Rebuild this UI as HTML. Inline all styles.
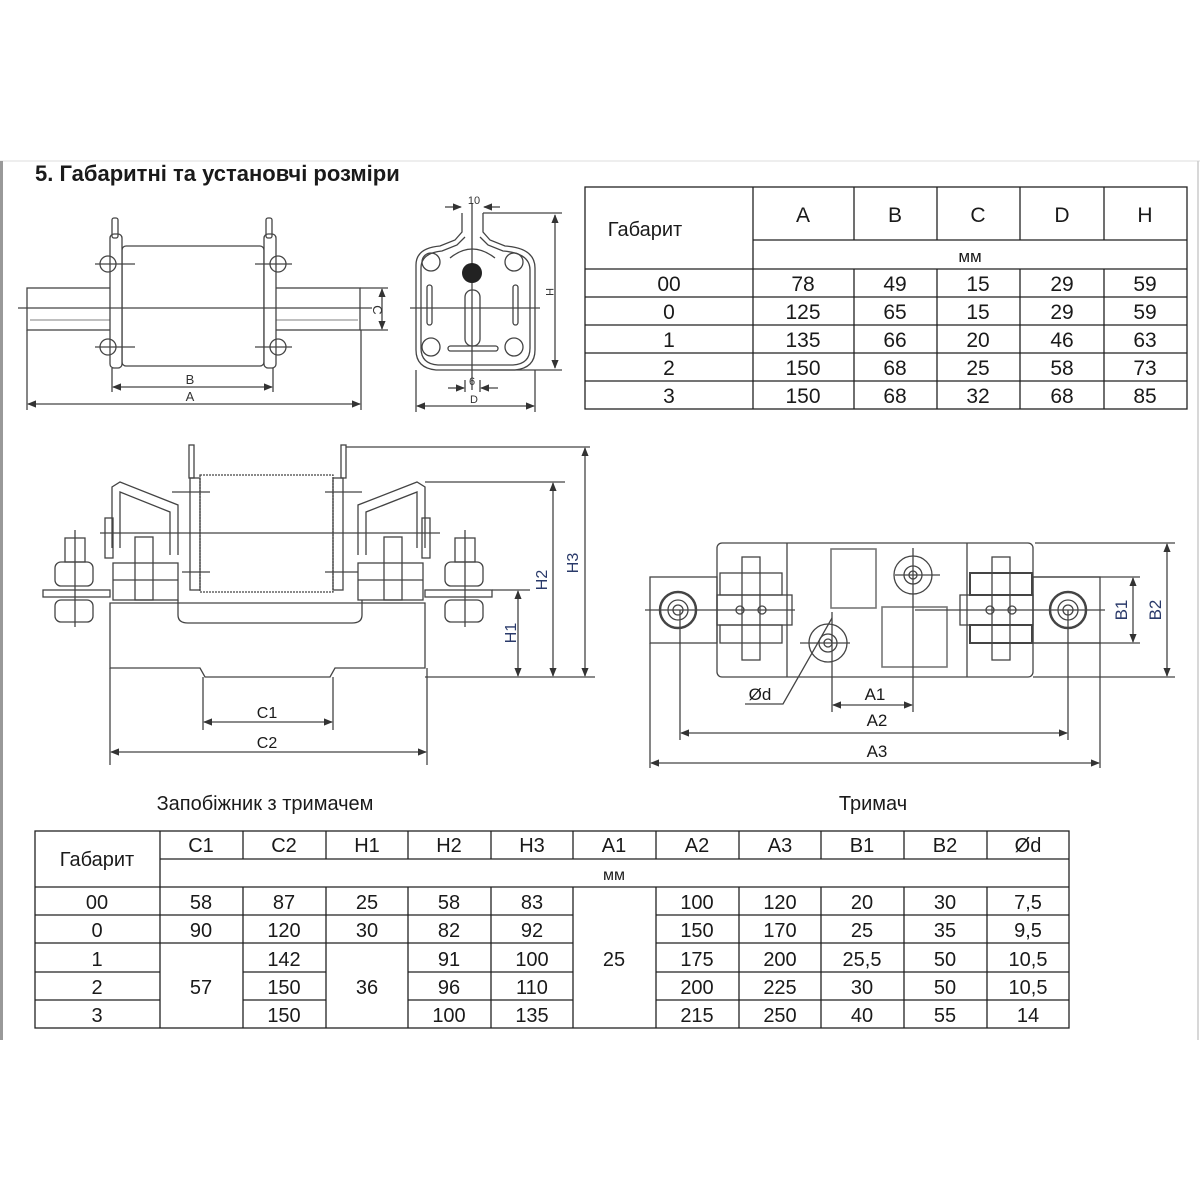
<!DOCTYPE html>
<html><head><meta charset="utf-8"><style>
html,body{margin:0;padding:0;background:#fff}
svg{display:block}
text{font-family:"Liberation Sans",sans-serif;fill:#1a1a1a}
.t{font-size:20px}
.n{font-size:21px}
.d{font-size:15px;fill:#333}
</style></head><body>
<svg width="1200" height="1200" viewBox="0 0 1200 1200" xmlns="http://www.w3.org/2000/svg">
<defs>
<marker id="a" viewBox="0 0 10 10" refX="9" refY="5" markerWidth="7" markerHeight="7" orient="auto-start-reverse"><path d="M0 1 L10 5 L0 9 Z" fill="#333"/></marker>
</defs>
<rect width="1200" height="1200" fill="#fff"/>
<line x1="0" y1="161" x2="1200" y2="161" stroke="#ddd" stroke-width="1"/>
<line x1="1.5" y1="161" x2="1.5" y2="1040" stroke="#999" stroke-width="3"/>
<line x1="1198" y1="161" x2="1198" y2="1040" stroke="#ccc" stroke-width="1.5"/>
<text x="35" y="181" style="font-size:22px;font-weight:bold">5. Габаритні та установчі розміри</text>

<!-- Top-left drawing -->
<g fill="none" stroke="#444" stroke-width="1.3">
<rect x="27" y="288" width="333" height="42"/>
<line x1="30" y1="320" x2="358" y2="320" stroke="#999"/>
<rect x="122" y="246" width="142" height="120" rx="4" fill="#fff"/>
<rect x="110" y="234" width="12" height="134" rx="4" fill="#fff"/>
<rect x="264" y="234" width="12" height="134" rx="4" fill="#fff"/>
<rect x="112" y="218" width="6" height="20" rx="2"/>
<rect x="266" y="218" width="6" height="20" rx="2"/>
<circle cx="108" cy="264" r="8"/><circle cx="108" cy="347" r="8"/>
<circle cx="278" cy="264" r="8"/><circle cx="278" cy="347" r="8"/>
<line x1="95" y1="264" x2="135" y2="264"/><line x1="95" y1="347" x2="135" y2="347"/>
<line x1="255" y1="264" x2="292" y2="264"/><line x1="255" y1="347" x2="292" y2="347"/>
<line x1="18" y1="308" x2="372" y2="308"/>
<line x1="27" y1="330" x2="27" y2="410"/><line x1="361" y1="330" x2="361" y2="410"/>
<line x1="112" y1="368" x2="112" y2="392"/><line x1="273" y1="368" x2="273" y2="392"/>
<line x1="113" y1="387" x2="272" y2="387" marker-start="url(#a)" marker-end="url(#a)"/>
<line x1="28" y1="404" x2="360" y2="404" marker-start="url(#a)" marker-end="url(#a)"/>
<line x1="360" y1="288" x2="388" y2="288"/><line x1="360" y1="330" x2="388" y2="330"/>
<line x1="382" y1="289" x2="382" y2="329" marker-start="url(#a)" marker-end="url(#a)"/>
</g>
<text class="d" x="190" y="384" text-anchor="middle" style="font-size:13px">B</text>
<text class="d" x="190" y="401" text-anchor="middle" style="font-size:13px">A</text>
<text class="d" x="373" y="310" text-anchor="middle" transform="rotate(90 373 310)" style="font-size:13px">C</text>

<!-- front view -->
<g fill="none" stroke="#444" stroke-width="1.3">
<path d="M462 213 L462 232 L455 240 L440 246 Q416 248 416 265 L416 350 Q416 368 436 370 L515 370 Q535 368 535 350 L535 268 Q535 248 505 246 L490 240 L483 232 L483 213"/>
<path d="M465 237 L457 245 L442 251 Q421 253 421 268 L421 348 Q421 364 438 365 L513 365 Q530 364 530 348 L530 270 Q530 253 503 251 L488 245 L480 237"/>
<circle cx="431" cy="262" r="9"/><circle cx="514" cy="262" r="9"/>
<circle cx="431" cy="347" r="9"/><circle cx="514" cy="347" r="9"/>
<rect x="465" y="290" width="15" height="56" rx="7"/>
<rect x="427" y="285" width="5" height="40" rx="2.5"/><rect x="513" y="285" width="5" height="40" rx="2.5"/>
<rect x="448" y="346" width="50" height="5" rx="2.5"/>
<path d="M450 258 Q472 240 495 258"/>
<line x1="410" y1="308" x2="540" y2="308"/>
<line x1="472" y1="203" x2="472" y2="390"/>
<line x1="483" y1="213" x2="562" y2="213"/><line x1="490" y1="370" x2="562" y2="370"/>
<line x1="555" y1="215" x2="555" y2="368" marker-start="url(#a)" marker-end="url(#a)"/>
<line x1="445" y1="207" x2="461" y2="207" marker-end="url(#a)"/><line x1="500" y1="207" x2="484" y2="207" marker-end="url(#a)"/>
<line x1="465" y1="380" x2="465" y2="392"/><line x1="480" y1="380" x2="480" y2="392"/>
<line x1="448" y1="388" x2="464" y2="388" marker-end="url(#a)"/><line x1="498" y1="388" x2="481" y2="388" marker-end="url(#a)"/>
<line x1="416" y1="370" x2="416" y2="412"/><line x1="535" y1="370" x2="535" y2="412"/>
<line x1="417" y1="406" x2="534" y2="406" marker-start="url(#a)" marker-end="url(#a)"/>
</g>
<circle cx="472" cy="273" r="10" fill="#222"/>
<text class="d" x="474" y="204" text-anchor="middle" style="font-size:11px">10</text>
<text class="d" x="472" y="385" text-anchor="middle" style="font-size:11px">6</text>
<text class="d" x="474" y="403" text-anchor="middle" style="font-size:11px">D</text>
<text class="d" x="546" y="292" text-anchor="middle" transform="rotate(90 546 292)" style="font-size:11px">H</text>

<!-- Top table -->
<g stroke="#222" stroke-width="1.3" fill="none">
<rect x="585" y="187" width="602" height="222"/>
<line x1="753" y1="187" x2="753" y2="409"/>
<line x1="854" y1="187" x2="854" y2="240"/><line x1="937" y1="187" x2="937" y2="240"/>
<line x1="1020" y1="187" x2="1020" y2="240"/><line x1="1104" y1="187" x2="1104" y2="240"/>
<line x1="854" y1="269" x2="854" y2="409"/><line x1="937" y1="269" x2="937" y2="409"/>
<line x1="1020" y1="269" x2="1020" y2="409"/><line x1="1104" y1="269" x2="1104" y2="409"/>
<line x1="753" y1="240" x2="1187" y2="240"/>
<line x1="585" y1="269" x2="1187" y2="269"/>
<line x1="585" y1="297" x2="1187" y2="297"/><line x1="585" y1="325" x2="1187" y2="325"/>
<line x1="585" y1="353" x2="1187" y2="353"/><line x1="585" y1="381" x2="1187" y2="381"/>
</g>
<g class="n" text-anchor="middle">
<text x="645" y="236" text-anchor="middle" class="t">Габарит</text>
<text x="803" y="222">A</text><text x="895" y="222">B</text><text x="978" y="222">C</text><text x="1062" y="222">D</text><text x="1145" y="222">H</text>
<text x="970" y="262" style="font-size:17px">мм</text>
<text x="669" y="291">00</text><text x="803" y="291">78</text><text x="895" y="291">49</text><text x="978" y="291">15</text><text x="1062" y="291">29</text><text x="1145" y="291">59</text>
<text x="669" y="319">0</text><text x="803" y="319">125</text><text x="895" y="319">65</text><text x="978" y="319">15</text><text x="1062" y="319">29</text><text x="1145" y="319">59</text>
<text x="669" y="347">1</text><text x="803" y="347">135</text><text x="895" y="347">66</text><text x="978" y="347">20</text><text x="1062" y="347">46</text><text x="1145" y="347">63</text>
<text x="669" y="375">2</text><text x="803" y="375">150</text><text x="895" y="375">68</text><text x="978" y="375">25</text><text x="1062" y="375">58</text><text x="1145" y="375">73</text>
<text x="669" y="403">3</text><text x="803" y="403">150</text><text x="895" y="403">68</text><text x="978" y="403">32</text><text x="1062" y="403">68</text><text x="1145" y="403">85</text>
</g>

<!-- Middle-left drawing -->
<g fill="none" stroke="#444" stroke-width="1.3">
<path d="M110 603 L110 668 L200 668 L205 677 L330 677 L335 668 L425 668 L425 603 Z"/>
<path d="M178 600 L178 615 Q178 623 188 623 L352 623 Q362 623 362 615 L362 600"/>
<rect x="200" y="475" width="133" height="117" stroke-dasharray="2 1"/>
<rect x="190" y="478" width="10" height="112"/><rect x="333" y="478" width="10" height="112"/>
<rect x="189" y="445" width="5" height="33"/><rect x="341" y="445" width="5" height="33"/>
<line x1="172" y1="492" x2="210" y2="492"/><line x1="325" y1="492" x2="362" y2="492"/>
<line x1="182" y1="572" x2="210" y2="572"/><line x1="325" y1="572" x2="358" y2="572"/>
<line x1="100" y1="533" x2="440" y2="533"/>
<path d="M112 548 L112 487 L120 482 L178 505 L178 555"/>
<path d="M120 548 L120 492 L170 512 L170 555"/>
<path d="M425 548 L425 487 L417 482 L358 505 L358 555"/>
<path d="M417 548 L417 492 L366 512 L366 555"/>
<rect x="105" y="518" width="8" height="40"/><rect x="422" y="518" width="8" height="40"/>
<rect x="135" y="537" width="18" height="63"/><rect x="384" y="537" width="18" height="63"/>
<rect x="113" y="563" width="65" height="37"/><rect x="358" y="563" width="65" height="37"/>
<line x1="113" y1="580" x2="178" y2="580"/><line x1="358" y1="580" x2="423" y2="580"/>
<rect x="65" y="538" width="20" height="24"/><rect x="55" y="562" width="38" height="24" rx="6"/>
<rect x="43" y="590" width="67" height="7"/><rect x="55" y="600" width="38" height="22" rx="6"/>
<line x1="75" y1="530" x2="75" y2="627"/>
<rect x="455" y="538" width="20" height="24"/><rect x="445" y="562" width="38" height="24" rx="6"/>
<rect x="425" y="590" width="67" height="7"/><rect x="445" y="600" width="38" height="22" rx="6"/>
<line x1="465" y1="530" x2="465" y2="627"/>
<line x1="346" y1="447" x2="590" y2="447"/>
<line x1="425" y1="482" x2="565" y2="482"/>
<line x1="492" y1="590" x2="530" y2="590"/>
<line x1="425" y1="677" x2="595" y2="677"/>
<line x1="518" y1="591" x2="518" y2="676" marker-start="url(#a)" marker-end="url(#a)"/>
<line x1="553" y1="483" x2="553" y2="676" marker-start="url(#a)" marker-end="url(#a)"/>
<line x1="585" y1="448" x2="585" y2="676" marker-start="url(#a)" marker-end="url(#a)"/>
<line x1="203" y1="677" x2="203" y2="730"/><line x1="333" y1="677" x2="333" y2="730"/>
<line x1="204" y1="722" x2="332" y2="722" marker-start="url(#a)" marker-end="url(#a)"/>
<line x1="110" y1="668" x2="110" y2="765"/><line x1="427" y1="668" x2="427" y2="765"/>
<line x1="111" y1="752" x2="426" y2="752" marker-start="url(#a)" marker-end="url(#a)"/>
</g>
<g class="d" text-anchor="middle" style="font-size:16px">
<text x="267" y="718">C1</text><text x="267" y="748">C2</text>
<text x="516" y="633" transform="rotate(-90 516 633)" style="fill:#2a3a6a">H1</text>
<text x="547" y="580" transform="rotate(-90 547 580)" style="fill:#2a3a6a">H2</text>
<text x="578" y="563" transform="rotate(-90 578 563)" style="fill:#2a3a6a">H3</text>
</g>

<!-- Holder -->
<g fill="none" stroke="#444" stroke-width="1.3">
<rect x="717" y="543" width="316" height="134" rx="5"/>
<line x1="787" y1="543" x2="787" y2="677"/><line x1="967" y1="543" x2="967" y2="677"/>
<rect x="650" y="577" width="67" height="66"/><rect x="1033" y="577" width="67" height="66"/>
<circle cx="678" cy="610" r="18" stroke-width="2.5"/><circle cx="678" cy="610" r="10"/><circle cx="678" cy="610" r="5"/>
<circle cx="1068" cy="610" r="18" stroke-width="2.5"/><circle cx="1068" cy="610" r="10"/><circle cx="1068" cy="610" r="5"/>
<rect x="742" y="557" width="18" height="103"/><rect x="720" y="573" width="62" height="22"/><rect x="720" y="625" width="62" height="18"/>
<rect x="717" y="595" width="75" height="30"/><circle cx="740" cy="610" r="4"/><circle cx="762" cy="610" r="4"/>
<rect x="992" y="557" width="18" height="103"/><rect x="970" y="573" width="62" height="22" stroke-width="2"/><rect x="970" y="625" width="62" height="18" stroke-width="2"/>
<rect x="960" y="595" width="73" height="30"/><circle cx="990" cy="610" r="4"/><circle cx="1012" cy="610" r="4"/>
<rect x="831" y="549" width="45" height="59" stroke="#777" stroke-width="1.6"/>
<rect x="882" y="607" width="65" height="60" stroke="#777" stroke-width="1.6"/>
<circle cx="913" cy="575" r="19"/><circle cx="913" cy="575" r="9"/><circle cx="913" cy="575" r="4"/>
<circle cx="828" cy="643" r="19"/><circle cx="828" cy="643" r="9"/><circle cx="828" cy="643" r="4"/>
<line x1="895" y1="575" x2="940" y2="575"/><line x1="800" y1="643" x2="850" y2="643"/>
<line x1="645" y1="610" x2="795" y2="610"/><line x1="915" y1="610" x2="1105" y2="610"/>
<line x1="913" y1="548" x2="913" y2="712"/><line x1="832" y1="612" x2="832" y2="712"/>
<line x1="833" y1="705" x2="912" y2="705" marker-start="url(#a)" marker-end="url(#a)"/>
<path d="M745 704 L783 704 L832 618"/>
<line x1="680" y1="610" x2="680" y2="740"/><line x1="1068" y1="610" x2="1068" y2="740"/>
<line x1="681" y1="733" x2="1067" y2="733" marker-start="url(#a)" marker-end="url(#a)"/>
<line x1="650" y1="643" x2="650" y2="768"/><line x1="1100" y1="643" x2="1100" y2="768"/>
<line x1="651" y1="763" x2="1099" y2="763" marker-start="url(#a)" marker-end="url(#a)"/>
<line x1="1033" y1="577" x2="1140" y2="577"/><line x1="1033" y1="643" x2="1140" y2="643"/>
<line x1="1133" y1="578" x2="1133" y2="642" marker-start="url(#a)" marker-end="url(#a)"/>
<line x1="1035" y1="543" x2="1175" y2="543"/><line x1="1033" y1="677" x2="1175" y2="677"/>
<line x1="1167" y1="544" x2="1167" y2="676" marker-start="url(#a)" marker-end="url(#a)"/>
</g>
<g class="d" text-anchor="middle" style="font-size:17px">
<text x="760" y="700">Ød</text>
<text x="875" y="700">A1</text><text x="877" y="726">A2</text><text x="877" y="757">A3</text>
<text x="1127" y="610" transform="rotate(-90 1127 610)" style="fill:#2a3a6a">B1</text>
<text x="1161" y="610" transform="rotate(-90 1161 610)" style="fill:#2a3a6a">B2</text>
</g>

<text x="265" y="810" text-anchor="middle" class="t">Запобіжник з тримачем</text>
<text x="873" y="810" text-anchor="middle" class="t">Тримач</text>

<!-- Bottom table -->
<g stroke="#222" stroke-width="1.3" fill="none">
<rect x="35" y="831" width="1034" height="197"/>
<line x1="160" y1="831" x2="160" y2="1028"/>
<line x1="160" y1="859" x2="1069" y2="859"/>
<line x1="35" y1="887" x2="1069" y2="887"/>
<g>
<line x1="243" y1="831" x2="243" y2="859"/><line x1="326" y1="831" x2="326" y2="859"/><line x1="408" y1="831" x2="408" y2="859"/>
<line x1="491" y1="831" x2="491" y2="859"/><line x1="573" y1="831" x2="573" y2="859"/><line x1="656" y1="831" x2="656" y2="859"/>
<line x1="739" y1="831" x2="739" y2="859"/><line x1="821" y1="831" x2="821" y2="859"/><line x1="904" y1="831" x2="904" y2="859"/>
<line x1="987" y1="831" x2="987" y2="859"/>
</g>
<g>
<line x1="243" y1="887" x2="243" y2="1028"/><line x1="326" y1="887" x2="326" y2="1028"/><line x1="408" y1="887" x2="408" y2="1028"/>
<line x1="491" y1="887" x2="491" y2="1028"/><line x1="573" y1="887" x2="573" y2="1028"/><line x1="656" y1="887" x2="656" y2="1028"/>
<line x1="739" y1="887" x2="739" y2="1028"/><line x1="821" y1="887" x2="821" y2="1028"/><line x1="904" y1="887" x2="904" y2="1028"/>
<line x1="987" y1="887" x2="987" y2="1028"/>
</g>
<line x1="35" y1="915" x2="573" y2="915"/><line x1="656" y1="915" x2="1069" y2="915"/>
<line x1="35" y1="943" x2="573" y2="943"/><line x1="656" y1="943" x2="1069" y2="943"/>
<line x1="35" y1="972" x2="160" y2="972"/><line x1="243" y1="972" x2="326" y2="972"/><line x1="408" y1="972" x2="573" y2="972"/><line x1="656" y1="972" x2="1069" y2="972"/>
<line x1="35" y1="1000" x2="160" y2="1000"/><line x1="243" y1="1000" x2="326" y2="1000"/><line x1="408" y1="1000" x2="573" y2="1000"/><line x1="656" y1="1000" x2="1069" y2="1000"/>
</g>
<g class="t" text-anchor="middle">
<text x="97" y="866">Габарит</text>
<text x="201" y="852">C1</text><text x="284" y="852">C2</text><text x="367" y="852">H1</text><text x="449" y="852">H2</text><text x="532" y="852">H3</text><text x="614" y="852">A1</text><text x="697" y="852">A2</text><text x="780" y="852">A3</text><text x="862" y="852">B1</text><text x="945" y="852">B2</text><text x="1028" y="852">Ød</text>
<text x="614" y="880" style="font-size:16px">мм</text>
<text x="97" y="909">00</text><text x="201" y="909">58</text><text x="284" y="909">87</text><text x="367" y="909">25</text><text x="449" y="909">58</text><text x="532" y="909">83</text><text x="697" y="909">100</text><text x="780" y="909">120</text><text x="862" y="909">20</text><text x="945" y="909">30</text><text x="1028" y="909">7,5</text>
<text x="97" y="937">0</text><text x="201" y="937">90</text><text x="284" y="937">120</text><text x="367" y="937">30</text><text x="449" y="937">82</text><text x="532" y="937">92</text><text x="697" y="937">150</text><text x="780" y="937">170</text><text x="862" y="937">25</text><text x="945" y="937">35</text><text x="1028" y="937">9,5</text>
<text x="97" y="966">1</text><text x="284" y="966">142</text><text x="449" y="966">91</text><text x="532" y="966">100</text><text x="614" y="966">25</text><text x="697" y="966">175</text><text x="780" y="966">200</text><text x="862" y="966">25,5</text><text x="945" y="966">50</text><text x="1028" y="966">10,5</text>
<text x="97" y="994">2</text><text x="201" y="994">57</text><text x="284" y="994">150</text><text x="367" y="994">36</text><text x="449" y="994">96</text><text x="532" y="994">110</text><text x="697" y="994">200</text><text x="780" y="994">225</text><text x="862" y="994">30</text><text x="945" y="994">50</text><text x="1028" y="994">10,5</text>
<text x="97" y="1022">3</text><text x="284" y="1022">150</text><text x="449" y="1022">100</text><text x="532" y="1022">135</text><text x="697" y="1022">215</text><text x="780" y="1022">250</text><text x="862" y="1022">40</text><text x="945" y="1022">55</text><text x="1028" y="1022">14</text>
</g>
</svg>
</body></html>
